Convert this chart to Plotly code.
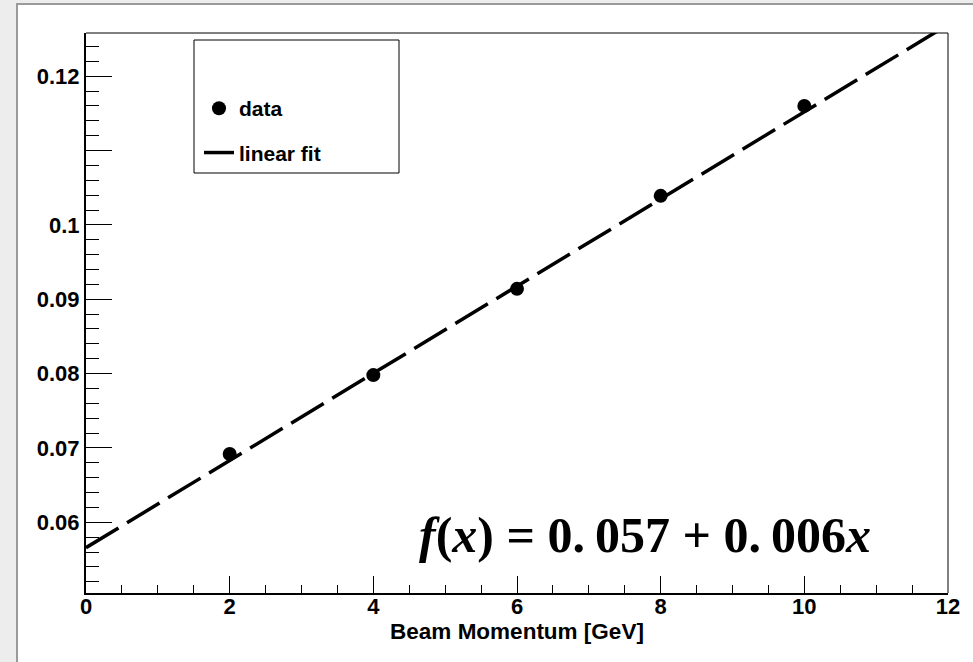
import plotly.graph_objects as go

# Measured beam momenta and the corresponding values
momentum = [2, 4, 6, 8, 10]
values = [0.0692, 0.0798, 0.0914, 0.1039, 0.1160]

# Linear fit parameters
fit_intercept = 0.0566
fit_slope = 0.00586
fit_x = [0, 12]
fit_y = [fit_intercept + fit_slope * x for x in fit_x]

# Axis ticks
x_ticks = [0, 2, 4, 6, 8, 10, 12]
y_ticks = [0.06, 0.07, 0.08, 0.09, 0.10, 0.11, 0.12]
y_tick_text = ["0.06", "0.07", "0.08", "0.09", "0.1", "", "0.12"]

W, H = 973, 662
L, R, T, B = 86, 25, 33, 69
pw, ph = W - L - R, H - T - B


def px_x(px):
    return (px - L) / pw


def px_y(py):
    return (H - B - py) / ph


fig = go.Figure()

fig.add_trace(go.Scatter(
    x=fit_x, y=fit_y, mode="lines", name="<b>linear fit</b>",
    line=dict(color="black", width=3.5, dash="38px,10px"),
    legendrank=2, legendgroup="b",
))
fig.add_trace(go.Scatter(
    x=momentum, y=values, mode="markers", name="<b>data</b>",
    marker=dict(color="black", size=14, symbol="circle"),
    legendrank=1, legendgroup="a",
))

fig.update_layout(
    width=W, height=H,
    margin=dict(l=L, r=R, t=T, b=B, autoexpand=False),
    paper_bgcolor="#ededed",
    plot_bgcolor="white",
    font=dict(family="Liberation Sans", color="black"),
    showlegend=True,
    legend=dict(
        x=px_x(199), y=px_y(40), xanchor="left", yanchor="top",
        bgcolor="rgba(0,0,0,0)", borderwidth=0,
        font=dict(family="Liberation Sans", size=21, color="black"),
        title=dict(text=" ", font=dict(size=37)),
        tracegroupgap=14,
        itemwidth=30,
        traceorder="grouped",
    ),
    xaxis=dict(
        range=[0, 12], tickvals=x_ticks, ticktext=[f"<b>{v}</b>" for v in x_ticks],
        ticks="inside", ticklen=17, tickwidth=1.2, tickcolor="black",
        minor=dict(ticks="inside", ticklen=8, tickwidth=1.2, tickcolor="black",
                   tick0=0, dtick=0.5),
        showline=True, linecolor="black", linewidth=2,
        showgrid=False, zeroline=False, automargin=False,
        ticklabelstandoff=-7,
        tickfont=dict(family="Liberation Sans", size=22, color="black"),
        title=dict(text="<b>Beam Momentum [GeV]</b>",
                   font=dict(family="Liberation Sans", size=22.5, color="black"),
                   standoff=0),
    ),
    yaxis=dict(
        range=[0.0505, 0.1258], tickvals=y_ticks, ticktext=[f"<b>{t}</b>" for t in y_tick_text],
        ticks="inside", ticklen=26, tickwidth=1.2, tickcolor="black",
        minor=dict(ticks="inside", ticklen=13, tickwidth=1.2, tickcolor="black",
                   tick0=0.05, dtick=0.002),
        showline=True, linecolor="black", linewidth=2,
        showgrid=False, zeroline=False, automargin=False,
        tickfont=dict(family="Liberation Sans", size=22, color="black"),
    ),
    shapes=[
        # window panel
        dict(type="rect", xref="paper", yref="paper", layer="below",
             x0=px_x(17), x1=px_x(980), y0=px_y(670), y1=px_y(4),
             fillcolor="white", line=dict(color="#9a9a9a", width=2)),
        # top and right frame
        dict(type="line", xref="paper", yref="paper",
             x0=0, x1=1, y0=1, y1=1, line=dict(color="black", width=1)),
        dict(type="line", xref="paper", yref="paper",
             x0=1, x1=1, y0=0, y1=1, line=dict(color="black", width=1)),
        # legend box
        dict(type="rect", xref="paper", yref="paper",
             x0=px_x(194), x1=px_x(399), y0=px_y(173), y1=px_y(40),
             fillcolor="white", line=dict(color="black", width=1), layer="above"),
    ],
    annotations=[
        dict(
            xref="paper", yref="paper", x=px_x(645), y=px_y(535),
            xanchor="center", yanchor="middle", showarrow=False,
            text=(f"<b><i>f</i>(<i>x</i>) = {fit_intercept:.3f}".replace(".", ".\u2009")
                  + f" + {fit_slope:.3f}".replace(".", ".\u2009") + "<i>x</i></b>"),
            font=dict(family="Liberation Serif", size=50, color="black"),
        )
    ],
)

fig.write_html("out.html")
